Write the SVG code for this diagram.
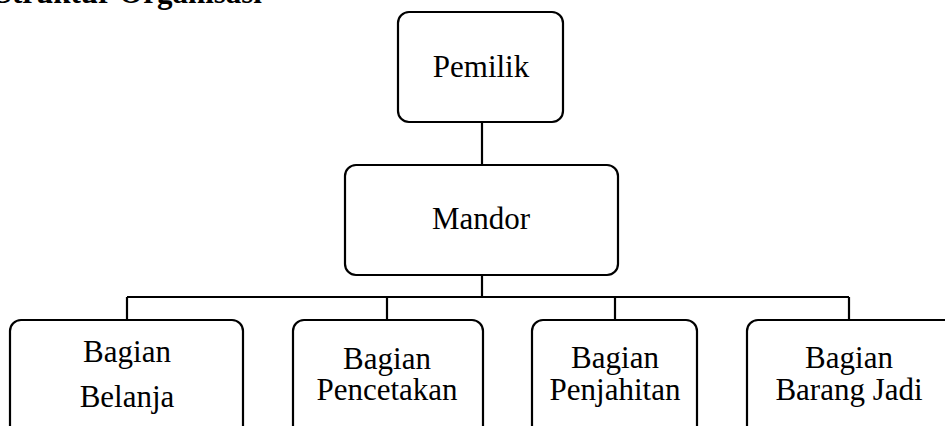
<svg xmlns="http://www.w3.org/2000/svg" width="945" height="426" viewBox="0 0 945 426">
<style>
.box{fill:#fff;stroke:#000;stroke-width:2.2}
.lbl{font-family:"Liberation Serif","Times New Roman",serif;font-size:31px;fill:#000;text-anchor:middle}
.title{font-family:"Liberation Serif","Times New Roman",serif;font-size:31px;font-weight:bold;fill:#000;text-anchor:end}
.con{fill:none;stroke:#000;stroke-width:2.2}
</style>
<rect width="945" height="426" fill="#fff"/>
<text class="title" x="262" y="3">Struktur Organisasi</text>
<g id="connectors">
<path class="con" d="M482 122V165M482 275V297M127 297H849M127 297V320M387 297V320M615 297V320M849 297V320"/>
</g>
<g id="pemilik">
<rect class="box" x="398" y="12" width="165" height="110" rx="11"/>
<text class="lbl" x="481" y="77">Pemilik</text>
</g>
<g id="mandor">
<rect class="box" x="345" y="165" width="273" height="110" rx="11"/>
<text class="lbl" x="481" y="229">Mandor</text>
</g>
<g id="belanja">
<rect class="box" x="10" y="320" width="233" height="130" rx="11"/>
<text class="lbl" x="127" y="362">Bagian</text>
<text class="lbl" x="127" y="407">Belanja</text>
</g>
<g id="pencetakan">
<rect class="box" x="293" y="320" width="190" height="130" rx="11"/>
<text class="lbl" x="387" y="369">Bagian</text>
<text class="lbl" x="387" y="400">Pencetakan</text>
</g>
<g id="penjahitan">
<rect class="box" x="532" y="320" width="165" height="130" rx="11"/>
<text class="lbl" x="615" y="368">Bagian</text>
<text class="lbl" x="615" y="400">Penjahitan</text>
</g>
<g id="barangjadi">
<rect class="box" x="747" y="320" width="210" height="130" rx="11"/>
<text class="lbl" x="849" y="368">Bagian</text>
<text class="lbl" x="849" y="400">Barang Jadi</text>
</g>
</svg>
